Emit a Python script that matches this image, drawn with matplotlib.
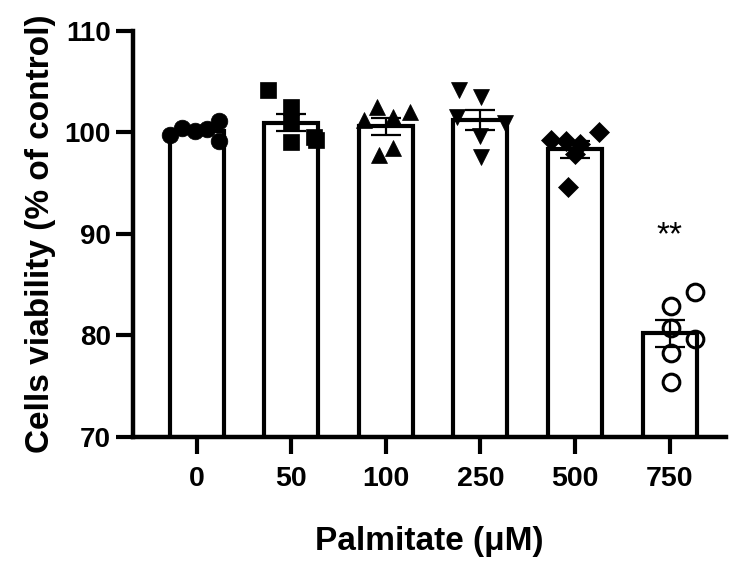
import numpy as np
import matplotlib
matplotlib.use('Agg')
import matplotlib.pyplot as plt

# data
doses = ['0', '50', '100', '250', '500', '750']
v0 = [99.7, 100.4, 100.1, 100.3, 101.1, 99.2]
v50 = [104.2, 102.5, 101.0, 99.1, 99.5, 99.3]
v100 = [101.2, 102.5, 101.5, 102.0, 97.8, 98.5]
v250 = [104.2, 103.5, 101.5, 99.6, 97.6, 100.9]
v500 = [99.3, 99.2, 98.9, 100.0, 97.9, 94.6]
v750 = [84.3, 82.9, 80.7, 79.7, 78.3, 75.4]
groups = [v0, v50, v100, v250, v500, v750]

# horizontal scatter of the points inside each bar
jitter = [
    [-0.28, -0.15, -0.02, 0.11, 0.24, 0.24],
    [-0.25, 0.0, 0.0, 0.0, 0.24, 0.26],
    [-0.23, -0.09, 0.08, 0.26, -0.07, 0.08],
    [-0.23, 0.01, -0.25, 0.0, 0.01, 0.26],
    [-0.25, -0.1, 0.05, 0.25, 0.0, -0.07],
    [0.27, 0.02, 0.02, 0.27, 0.02, 0.02],
]
markers = ['o', 's', '^', 'v', 'D', 'o']
faces = ['k', 'k', 'k', 'k', 'k', 'none']
msizes = [12, 12, 12, 12, 10, 12]

plt.rcParams['font.family'] = ['Liberation Sans', 'DejaVu Sans']
plt.rcParams['font.weight'] = 'bold'

fig = plt.figure(figsize=(7.3, 5.61), dpi=100)
ax = fig.add_axes([0.182, 0.221, 0.813, 0.724])

x = np.arange(len(doses))
means = [np.mean(g) for g in groups]
sems = [np.std(g, ddof=1) / np.sqrt(len(g)) for g in groups]

ax.bar(x, means, width=0.57, color='white', edgecolor='black', linewidth=3, zorder=2)

for i, g in enumerate(groups):
    xs = x[i] + np.array(jitter[i])
    ax.plot(xs, g, linestyle='none', marker=markers[i], markersize=msizes[i],
            markerfacecolor=faces[i], markeredgecolor='black',
            markeredgewidth=2.2 if faces[i] == 'none' else 0.5, zorder=4)

ax.errorbar(x, means, yerr=sems, fmt='none', ecolor='black', elinewidth=1.6,
            capsize=11, capthick=1.6, zorder=3)

ax.text(x[5], 89.0, '**', ha='center', va='baseline', fontsize=24, fontweight='normal')

ax.set_xlim(-0.674, 5.6)
ax.set_ylim(70, 110)
ax.set_yticks([70, 80, 90, 100, 110])
ax.set_xticks(x)
ax.set_xticklabels(doses)

for s in ['top', 'right']:
    ax.spines[s].set_visible(False)
for s in ['left', 'bottom']:
    ax.spines[s].set_linewidth(3.2)
ax.tick_params(axis='both', width=3, length=12)
ax.tick_params(axis='y', pad=4, labelsize=20)
ax.tick_params(axis='x', pad=9, labelsize=20.5)

ax.set_ylabel('Cells viability (% of control)', fontsize=24, fontweight='bold', labelpad=6)
ax.set_xlabel('Palmitate (\u03bcM)', fontsize=24, fontweight='bold', labelpad=24)

fig.savefig('out.png', dpi=100)
